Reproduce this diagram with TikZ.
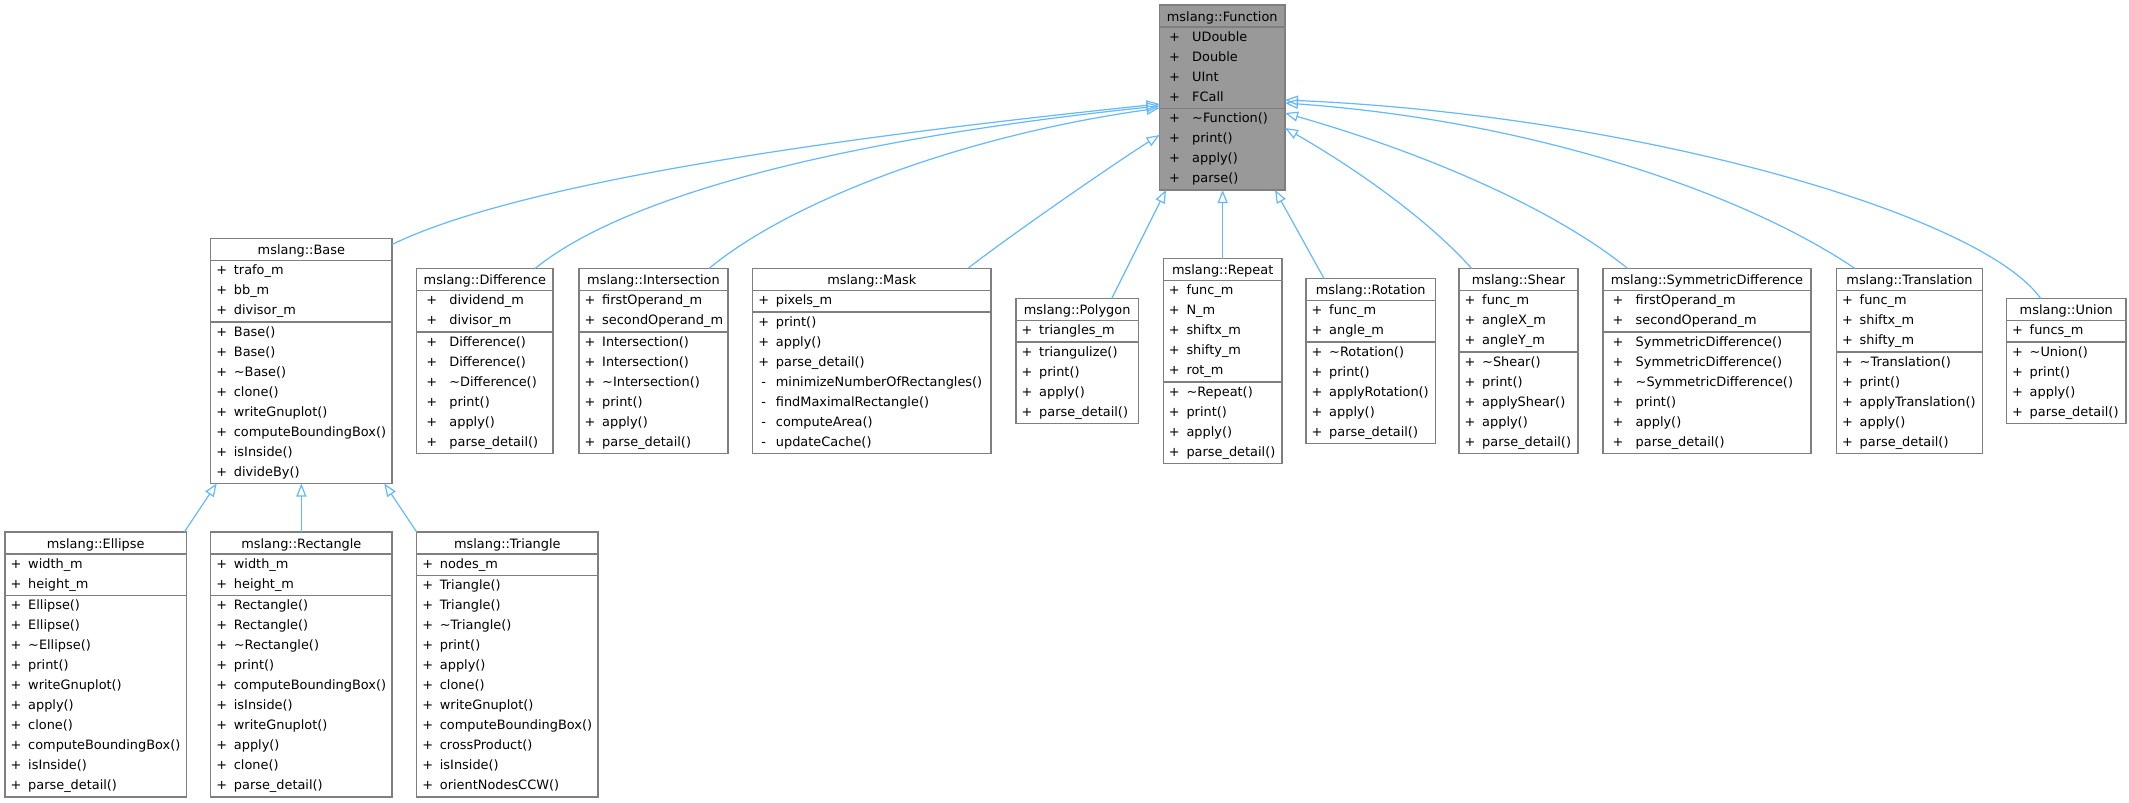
\documentclass[tikz,border=0pt]{standalone}
\usepackage{fontspec}
\setmainfont{DejaVu Sans}
\usetikzlibrary{calc,arrows.meta}
\definecolor{edgeblue}{HTML}{63B8FF}
\definecolor{boxline}{HTML}{7F7F7F}
\definecolor{hlfill}{HTML}{999999}
\newcommand\tld{\textasciitilde}
\newcommand\visx{11}
\newcommand\txtx{23}
\newcommand\setwide{\renewcommand\visx{15}\renewcommand\txtx{32.5}}
\newcommand\setnormal{\renewcommand\visx{11}\renewcommand\txtx{23}}
\tikzset{
 clsbox/.style={draw=boxline, line width=1.4pt, fill=white, inner sep=0pt, outer sep=0pt},
 divline/.style={draw=boxline, line width=1.4pt},
 txt/.style={inner sep=0pt, font=\fontsize{12.9}{15}\selectfont, text=black},
 inh/.style={draw=edgeblue, line width=1.2pt, -{Triangle[open, length=13pt, width=10pt]}},
}
% #1 name, #2 x, #3 y, #4 width, #5 box style, #6 title, #7 attributes, #8 methods
\newcommand\umlclass[8]{%
 \gdef\na{0}\gdef\nm{0}%
 \foreach \va/\ta [count=\i] in {#7} {\xdef\na{\i}}%
 \foreach \va/\ta [count=\i] in {#8} {\xdef\nm{\i}}%
 \pgfmathsetmacro\hh{25+20*(\na+\nm)}%
 \node[clsbox,#5,minimum width=#4pt,minimum height=\hh pt,anchor=north west] (#1) at (#2,#3) {};
 \node[txt,anchor=base] (#1-title) at ($(#1.north)+(0,16)$) {#6};
 \draw[divline] ($(#1.north west)+(0,22)$) -- ($(#1.north east)+(0,22)$);
 \pgfmathsetmacro\dy{23.5+20*\na}%
 \draw[divline] ($(#1.north west)+(0,\dy)$) -- ($(#1.north east)+(0,\dy)$);
 \foreach \va/\ta [count=\i] in {#7} {
   \node[txt,anchor=base] (#1-av\i) at ($(#1.north west)+(\visx,{36.2+20*(\i-1)})$) {\va};
   \node[txt,anchor=base west] (#1-a\i) at ($(#1.north west)+(\txtx,{36.2+20*(\i-1)})$) {\ta};
 }
 \foreach \va/\ta [count=\i] in {#8} {
   \node[txt,anchor=base] (#1-mv\i) at ($(#1.north west)+(\visx,{37.7+20*(\na+\i-1)})$) {\va};
   \node[txt,anchor=base west] (#1-m\i) at ($(#1.north west)+(\txtx,{37.7+20*(\na+\i-1)})$) {\ta};
 }
}
\begin{document}
\begin{tikzpicture}[x=1pt,y=-1pt]
\useasboundingbox (0,0) rectangle (2129,803);

\setwide
\umlclass{Function}{1159.5}{5}{125.5}{fill=hlfill}{mslang::Function}
 {+/UDouble, +/Double, +/UInt, +/FCall}
 {+/\tld Function(), +/print(), +/apply(), +/parse()}

\setnormal
\umlclass{Base}{210.7}{238.5}{181.3}{}{mslang::Base}
 {+/trafo\_m, +/bb\_m, +/divisor\_m}
 {+/Base(), +/Base(), +/\tld Base(), +/clone(), +/writeGnuplot(), +/computeBoundingBox(), +/isInside(), +/divideBy()}

\setwide
\umlclass{Difference}{416.7}{268.5}{136.3}{}{mslang::Difference}
 {+/dividend\_m, +/divisor\_m}
 {+/Difference(), +/Difference(), +/\tld Difference(), +/print(), +/apply(), +/parse\_detail()}

\setnormal
\umlclass{Intersection}{579}{268.5}{149}{}{mslang::Intersection}
 {+/firstOperand\_m, +/secondOperand\_m}
 {+/Intersection(), +/Intersection(), +/\tld Intersection(), +/print(), +/apply(), +/parse\_detail()}

\umlclass{Mask}{752.7}{268.5}{238.3}{}{mslang::Mask}
 {+/pixels\_m}
 {+/print(), +/apply(), +/parse\_detail(), -/minimizeNumberOfRectangles(), -/findMaximalRectangle(), -/computeArea(), -/updateCache()}

\umlclass{Polygon}{1016}{298.5}{122.3}{}{mslang::Polygon}
 {+/triangles\_m}
 {+/triangulize(), +/print(), +/apply(), +/parse\_detail()}

\umlclass{Repeat}{1163.3}{258.5}{118.7}{}{mslang::Repeat}
 {+/func\_m, +/N\_m, +/shiftx\_m, +/shifty\_m, +/rot\_m}
 {+/\tld Repeat(), +/print(), +/apply(), +/parse\_detail()}

\umlclass{Rotation}{1306}{278.5}{129.3}{}{mslang::Rotation}
 {+/func\_m, +/angle\_m}
 {+/\tld Rotation(), +/print(), +/applyRotation(), +/apply(), +/parse\_detail()}

\umlclass{Shear}{1459}{268.5}{119}{}{mslang::Shear}
 {+/func\_m, +/angleX\_m, +/angleY\_m}
 {+/\tld Shear(), +/print(), +/applyShear(), +/apply(), +/parse\_detail()}

\setwide
\umlclass{SymmetricDifference}{1603}{268.5}{208}{}{mslang::SymmetricDifference}
 {+/firstOperand\_m, +/secondOperand\_m}
 {+/SymmetricDifference(), +/SymmetricDifference(), +/\tld SymmetricDifference(), +/print(), +/apply(), +/parse\_detail()}

\setnormal
\umlclass{Translation}{1836.5}{268.5}{146}{}{mslang::Translation}
 {+/func\_m, +/shiftx\_m, +/shifty\_m}
 {+/\tld Translation(), +/print(), +/applyTranslation(), +/apply(), +/parse\_detail()}

\umlclass{Union}{2006.5}{298.5}{119.5}{}{mslang::Union}
 {+/funcs\_m}
 {+/\tld Union(), +/print(), +/apply(), +/parse\_detail()}

\umlclass{Ellipse}{5}{532}{181.3}{}{mslang::Ellipse}
 {+/width\_m, +/height\_m}
 {+/Ellipse(), +/Ellipse(), +/\tld Ellipse(), +/print(), +/writeGnuplot(), +/apply(), +/clone(), +/computeBoundingBox(), +/isInside(), +/parse\_detail()}

\umlclass{Rectangle}{210.7}{532}{181.3}{}{mslang::Rectangle}
 {+/width\_m, +/height\_m}
 {+/Rectangle(), +/Rectangle(), +/\tld Rectangle(), +/print(), +/computeBoundingBox(), +/isInside(), +/writeGnuplot(), +/apply(), +/clone(), +/parse\_detail()}

\umlclass{Triangle}{416.7}{532}{181.3}{}{mslang::Triangle}
 {+/nodes\_m}
 {+/Triangle(), +/Triangle(), +/\tld Triangle(), +/print(), +/apply(), +/clone(), +/writeGnuplot(), +/computeBoundingBox(), +/crossProduct(), +/isInside(), +/orientNodesCCW()}

% inheritance edges
\draw[inh] ($(Base.north east)+(0,6)$) .. controls (527,179) and (862,135) .. ($(Function.north west)+(0,99)$);
\draw[inh] ($(Difference.north west)+(118.3,0)$) .. controls (636,187) and (880,135) .. ($(Function.north west)+(0,101)$);
\draw[inh] ($(Intersection.north west)+(130,0)$) .. controls (789,202) and (960,136) .. ($(Function.north west)+(0,103)$);
\draw[inh] ($(Mask.north west)+(215,0)$) .. controls (1008,237) and (1115,163) .. ($(Function.north west)+(0,130)$);
\draw[inh] ($(Polygon.north west)+(95.7,0)$) -- ($(Function.south west)+(6.5,0)$);
\draw[inh] (Repeat.north) -- (Repeat.north |- Function.south);
\draw[inh] ($(Rotation.north west)+(18,0)$) -- ($(Function.south east)+(-10,0)$);
\draw[inh] ($(Shear.north west)+(12.7,0)$) .. controls (1432,224) and (1365,174) .. ($(Function.north east)+(0,123)$);
\draw[inh] ($(SymmetricDifference.north west)+(24.7,0)$) .. controls (1558,212) and (1435,156) .. ($(Function.north east)+(0,108)$);
\draw[inh] ($(Translation.north west)+(18.5,0)$) .. controls (1745,194) and (1535,121) .. ($(Function.north east)+(0,98)$);
\draw[inh] ($(Union.north west)+(34.2,0)$) .. controls (1981,214) and (1635,115) .. ($(Function.north east)+(0,95)$);
\draw[inh] ($(Ellipse.north east)+(-2,0)$) -- ($(Base.south west)+(6,0)$);
\draw[inh] (Rectangle.north) -- (Base.south);
\draw[inh] (Triangle.north west) -- ($(Base.south east)+(-7.7,0)$);
\end{tikzpicture}
\end{document}
